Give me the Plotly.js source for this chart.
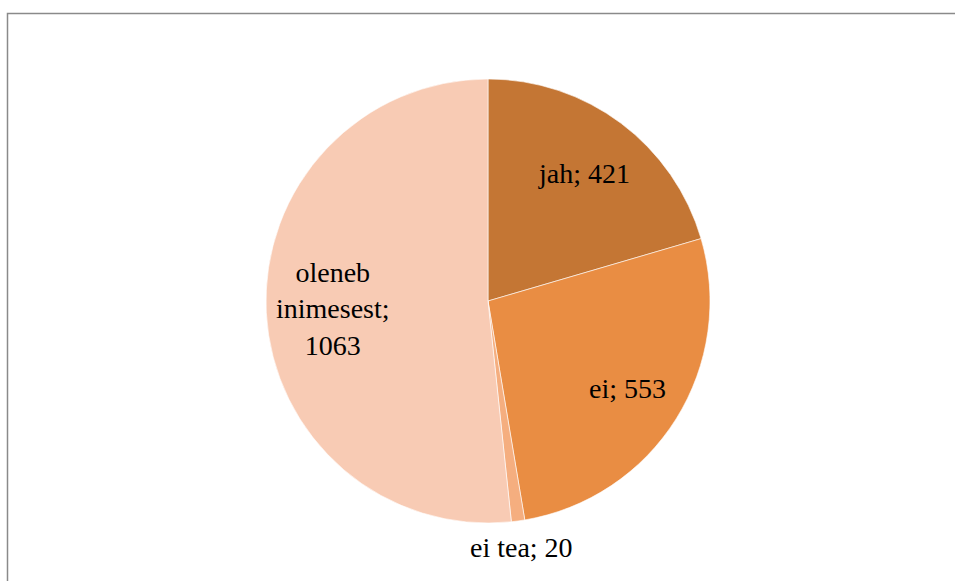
<!DOCTYPE html>
<html>
<head>
<meta charset="utf-8">
<script src="https://cdn.plot.ly/plotly-3.0.1.min.js"></script>
<style>html,body{margin:0;padding:0;background:#fff;}#chart{width:955px;height:581px;}</style>
</head>
<body>
<div id="chart"></div>
<script>
const categories = ['jah', 'ei', 'ei tea', 'oleneb<br>inimesest'];
const values = [421, 553, 20, 1063];
const separators = [' ', ' ', ' ', '<br>'];
const colors = ['#C47634', '#E98D43', '#F5AE7F', '#F8CBB4'];
const labelRadius = [0.72, 0.74, 1.12, 0.70];

const W = 955, H = 581;
const CX = 488, CY = 301, R = 222;
const serif = 'Liberation Serif, Times New Roman, Times, DejaVu Serif, serif';

const trace = {
  type: 'pie',
  labels: categories,
  values: values,
  sort: false,
  direction: 'clockwise',
  rotation: 0,
  marker: {colors: colors, line: {color: '#ffffff', width: 0.6}},
  textinfo: 'none',
  hoverinfo: 'none',
  showlegend: false,
  domain: {x: [(CX - R) / W, (CX + R) / W], y: [(H - CY - R) / H, (H - CY + R) / H]}
};

const total = values.reduce((a, b) => a + b, 0);
let cum = 0;
const annotations = values.map((v, i) => {
  const mid = (cum + v / 2) / total * 2 * Math.PI;
  cum += v;
  const px = CX + labelRadius[i] * R * Math.sin(mid);
  const py = CY - labelRadius[i] * R * Math.cos(mid);
  return {
    xref: 'paper', yref: 'paper',
    x: px / W, y: 1 - py / H,
    xanchor: 'center', yanchor: 'middle',
    text: categories[i] + ';' + separators[i] + v,
    showarrow: false,
    align: 'center',
    font: {family: serif, size: 28, color: '#000000'}
  };
});

const layout = {
  width: W,
  height: H,
  margin: {l: 0, r: 0, t: 0, b: 0},
  paper_bgcolor: '#ffffff',
  showlegend: false,
  font: {family: serif},
  annotations: annotations,
  shapes: [{
    type: 'rect', xref: 'paper', yref: 'paper',
    x0: 7.5 / W, x1: 1.05, y0: -0.05, y1: 1 - 13.5 / H,
    line: {color: '#8a8a8a', width: 1.5}, fillcolor: 'rgba(0,0,0,0)'
  }]
};

Plotly.newPlot('chart', [trace], layout, {staticPlot: true});
</script>
</body>
</html>
